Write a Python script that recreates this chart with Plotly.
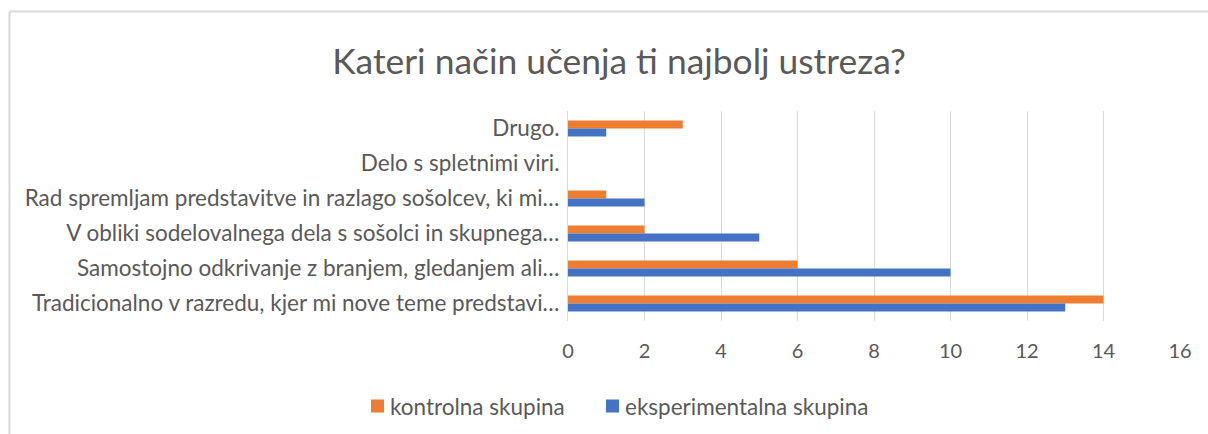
import plotly.graph_objects as go

# Survey answers, listed top to bottom as they appear on the chart
categories = [
    "Drugo.",
    "Delo s spletnimi viri.",
    "Rad spremljam predstavitve in razlago sošolcev, ki mi…",
    "V obliki sodelovalnega dela s sošolci in skupnega…",
    "Samostojno odkrivanje z branjem, gledanjem ali…",
    "Tradicionalno v razredu, kjer mi nove teme predstavi…",
]
kontrolna = [3, 0, 1, 2, 6, 14]
eksperimentalna = [1, 0, 2, 5, 10, 13]
x_ticks = [0, 2, 4, 6, 8, 10, 12, 14, 16]
series_names = ["kontrolna skupina", "eksperimentalna skupina"]
series_colors = ["#ED7D31", "#4472C4"]

title_text = "Kateri način učenja ti najbolj ustreza?"
FONT = "Lato"
GREY = "#595959"

W, H = 1208, 434
L, R, T, B = 568, 28, 111, 113
PW, PH = W - L - R, H - T - B


def px_x(px):
    return (px - L) / PW


def px_y(py):
    return (H - B - py) / PH


fig = go.Figure()
for name, vals, col in zip(series_names, [kontrolna, eksperimentalna], series_colors):
    fig.add_trace(go.Bar(
        y=categories, x=vals, orientation="h", name=name,
        marker=dict(color=col, line=dict(width=0)), showlegend=False,
    ))

fig.update_layout(
    width=W, height=H,
    margin=dict(l=L, r=R, t=T, b=B),
    paper_bgcolor="white", plot_bgcolor="white",
    barmode="group", bargap=0.54, bargroupgap=0,
    font=dict(family=FONT, color=GREY),
    title=dict(text=title_text, x=619 / W, xref="container", xanchor="center",
               y=1 - 62 / H, yref="container", yanchor="middle",
               font=dict(size=35.4, color=GREY, family=FONT)),
    xaxis=dict(range=[0, 16], tickvals=x_ticks, showgrid=True, gridcolor="#D9D9D9",
               gridwidth=1, zeroline=False, showline=False,
               tickfont=dict(size=20, color=GREY), ticks="", ticklabelstandoff=16),
    yaxis=dict(autorange="reversed", showgrid=False, zeroline=False,
               showline=True, linecolor="#D9D9D9", linewidth=1,
               tickfont=dict(size=22.5, color=GREY), ticks="", ticklabelstandoff=3),
)

# Legend: coloured square followed by the series name
legend_x = [371, 606]
for lx, name, col in zip(legend_x, series_names, series_colors):
    fig.add_shape(type="rect", xref="paper", yref="paper",
                  x0=px_x(lx), x1=px_x(lx + 13), y0=px_y(412.5), y1=px_y(399.5),
                  fillcolor=col, line=dict(width=0))
    fig.add_annotation(text=name, xref="paper", yref="paper",
                       x=px_x(lx + 17), y=px_y(406), xanchor="left", yanchor="middle",
                       showarrow=False, font=dict(size=22.5, color=GREY, family=FONT))

# light outline along the top and left edges of the chart area
fig.add_shape(type="line", xref="paper", yref="paper",
              x0=px_x(9.5), x1=px_x(1210), y0=px_y(11.5), y1=px_y(11.5),
              line=dict(color="#D9D9D9", width=2))
fig.add_shape(type="line", xref="paper", yref="paper",
              x0=px_x(9.5), x1=px_x(9.5), y0=px_y(440), y1=px_y(11.5),
              line=dict(color="#D9D9D9", width=2))

fig.write_html("out.html")
